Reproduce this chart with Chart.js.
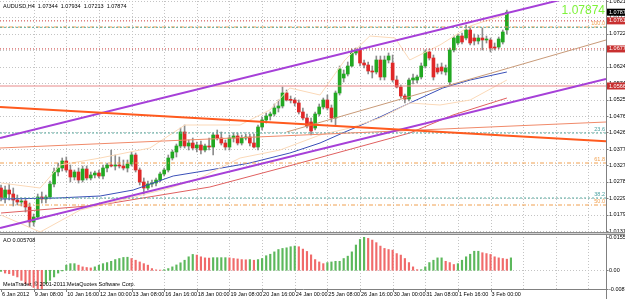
<!DOCTYPE html>
<html>
<head>
<meta charset="utf-8">
<script src="https://cdn.jsdelivr.net/npm/chart.js@4.4.0/dist/chart.umd.min.js"></script>
<style>
  html, body { margin: 0; padding: 0; background: #fff; }
  #wrap { position: relative; width: 625px; height: 299px; overflow: hidden; }
  #main { position: absolute; left: 0; top: 0; }
  #ao { position: absolute; left: 0; top: 235px; }
  .sep { position: absolute; left: 0; width: 625px; height: 1px; }
</style>
</head>
<body>
<div id="wrap">
  <canvas id="main" width="625" height="234"></canvas>
  <div class="sep" style="top:232px;background:#8a8a8a"></div>
  <div class="sep" style="top:233px;background:#d0d0d0"></div>
  <div class="sep" style="top:234px;background:#8a8a8a"></div>
  <canvas id="ao" width="625" height="64"></canvas>
</div>
<script>
// AUDUSD H4, 6 Jan - 3 Feb 2012
const timeLabels = ["6 Jan 2012", "9 Jan 08:00", "10 Jan 16:00", "12 Jan 00:00", "13 Jan 08:00",
  "16 Jan 16:00", "18 Jan 00:00", "19 Jan 08:00", "20 Jan 16:00", "24 Jan 00:00", "25 Jan 08:00",
  "26 Jan 16:00", "30 Jan 00:00", "31 Jan 08:00", "1 Feb 16:00", "3 Feb 00:00"];
const priceTicks = ["1.08210", "1.07720", "1.07225", "1.06735", "1.06240", "1.05745", "1.05250",
  "1.04760", "1.04265", "1.03770", "1.03275", "1.02785", "1.02290", "1.01795", "1.01310"];
const aoTicks = ["0.01554", "0.00", "-0.00873"];

// open, high, low, close
const ohlc = [
  [1.0260,1.0269,1.0221,1.0230],[1.0230,1.0266,1.0215,1.0254],[1.0254,1.0272,1.0224,1.0242],[1.0242,1.0260,1.0206,1.0224],
  [1.0224,1.0239,1.0209,1.0218],[1.0218,1.0230,1.0206,1.0221],[1.0221,1.0230,1.0188,1.0203],[1.0203,1.0215,1.0143,1.0158],
  [1.0158,1.0182,1.0146,1.0173],[1.0173,1.0242,1.0167,1.0233],[1.0233,1.0248,1.0215,1.0227],[1.0227,1.0239,1.0215,1.0233],
  [1.0233,1.0281,1.0227,1.0272],[1.0272,1.0320,1.0263,1.0308],[1.0308,1.0335,1.0296,1.0320],[1.0320,1.0350,1.0311,1.0341],
  [1.0341,1.0353,1.0308,1.0314],[1.0314,1.0329,1.0278,1.0293],[1.0293,1.0314,1.0284,1.0308],[1.0308,1.0320,1.0275,1.0284],
  [1.0284,1.0326,1.0278,1.0317],[1.0317,1.0326,1.0284,1.0290],[1.0290,1.0308,1.0284,1.0299],[1.0299,1.0311,1.0290,1.0305],
  [1.0305,1.0314,1.0290,1.0296],[1.0296,1.0329,1.0287,1.0320],[1.0320,1.0335,1.0308,1.0329],[1.0329,1.0374,1.0323,1.0326],
  [1.0326,1.0359,1.0314,1.0329],[1.0329,1.0353,1.0320,1.0326],[1.0326,1.0344,1.0314,1.0320],[1.0320,1.0344,1.0308,1.0332],
  [1.0332,1.0368,1.0326,1.0359],[1.0359,1.0365,1.0308,1.0314],[1.0314,1.0320,1.0269,1.0278],[1.0278,1.0290,1.0239,1.0260],
  [1.0260,1.0281,1.0254,1.0272],[1.0272,1.0284,1.0263,1.0275],[1.0275,1.0290,1.0266,1.0284],[1.0284,1.0308,1.0278,1.0302],
  [1.0302,1.0320,1.0296,1.0314],[1.0314,1.0359,1.0308,1.0350],[1.0350,1.0374,1.0344,1.0368],[1.0368,1.0392,1.0353,1.0386],
  [1.0386,1.0440,1.0380,1.0428],[1.0428,1.0449,1.0380,1.0386],[1.0386,1.0404,1.0374,1.0395],[1.0395,1.0410,1.0374,1.0380],
  [1.0380,1.0398,1.0368,1.0389],[1.0389,1.0401,1.0362,1.0374],[1.0374,1.0392,1.0368,1.0386],[1.0386,1.0410,1.0374,1.0383],
  [1.0383,1.0425,1.0359,1.0419],[1.0419,1.0434,1.0404,1.0410],[1.0410,1.0428,1.0389,1.0395],[1.0395,1.0404,1.0374,1.0383],
  [1.0383,1.0419,1.0374,1.0410],[1.0410,1.0425,1.0398,1.0416],[1.0416,1.0425,1.0389,1.0395],[1.0395,1.0419,1.0389,1.0410],
  [1.0410,1.0422,1.0404,1.0413],[1.0413,1.0422,1.0386,1.0395],[1.0395,1.0422,1.0380,1.0383],[1.0383,1.0449,1.0374,1.0443],
  [1.0443,1.0473,1.0434,1.0464],[1.0464,1.0485,1.0455,1.0476],[1.0476,1.0488,1.0464,1.0482],[1.0482,1.0512,1.0476,1.0500],
  [1.0500,1.0524,1.0488,1.0506],[1.0506,1.0563,1.0500,1.0545],[1.0545,1.0554,1.0521,1.0524],[1.0524,1.0536,1.0515,1.0523],
  [1.0524,1.0530,1.0506,1.0515],[1.0515,1.0524,1.0482,1.0488],[1.0488,1.0500,1.0464,1.0470],[1.0470,1.0482,1.0440,1.0446],
  [1.0458,1.0470,1.0419,1.0431],[1.0440,1.0488,1.0434,1.0482],[1.0482,1.0512,1.0476,1.0503],[1.0503,1.0530,1.0497,1.0524],
  [1.0524,1.0539,1.0494,1.0500],[1.0500,1.0509,1.0458,1.0470],[1.0470,1.0551,1.0449,1.0545],[1.0545,1.0626,1.0539,1.0617],
  [1.0590,1.0614,1.0578,1.0602],[1.0602,1.0638,1.0596,1.0626],[1.0626,1.0677,1.0623,1.0665],[1.0665,1.0680,1.0659,1.0674],
  [1.0674,1.0683,1.0626,1.0635],[1.0635,1.0644,1.0620,1.0629],[1.0629,1.0638,1.0602,1.0611],[1.0611,1.0626,1.0590,1.0608],
  [1.0608,1.0656,1.0602,1.0644],[1.0644,1.0656,1.0584,1.0593],[1.0593,1.0656,1.0584,1.0644],[1.0644,1.0665,1.0635,1.0656],
  [1.0635,1.0659,1.0578,1.0584],[1.0584,1.0596,1.0560,1.0563],[1.0563,1.0569,1.0530,1.0536],[1.0536,1.0542,1.0515,1.0527],
  [1.0527,1.0590,1.0521,1.0584],[1.0584,1.0602,1.0572,1.0590],[1.0584,1.0599,1.0575,1.0593],[1.0593,1.0635,1.0587,1.0626],
  [1.0626,1.0674,1.0620,1.0668],[1.0668,1.0677,1.0644,1.0650],[1.0650,1.0659,1.0584,1.0593],[1.0620,1.0632,1.0602,1.0608],
  [1.0623,1.0635,1.0602,1.0611],[1.0608,1.0629,1.0599,1.0620],[1.0578,1.0680,1.0569,1.0674],[1.0674,1.0716,1.0668,1.0710],
  [1.0695,1.0722,1.0689,1.0716],[1.0716,1.0725,1.0692,1.0698],[1.0710,1.0749,1.0704,1.0734],[1.0734,1.0740,1.0689,1.0695],
  [1.0710,1.0722,1.0689,1.0701],[1.0701,1.0719,1.0692,1.0710],[1.0710,1.0740,1.0674,1.0704],[1.0704,1.0716,1.0695,1.0705],
  [1.0704,1.0710,1.0668,1.0680],[1.0683,1.0695,1.0674,1.0680],[1.0683,1.0713,1.0677,1.0707],[1.0698,1.0734,1.0692,1.0728],
  [1.07344,1.07934,1.07213,1.07874]
];

const aoValues = [
  -0.0005,-0.0013,-0.0016,-0.0024,-0.0031,-0.0047,-0.0063,-0.0071,-0.0080,-0.0086,-0.0087,-0.0063,-0.0047,-0.0031,-0.0013,-0.0003,
  0.0024,0.0031,0.0031,0.0024,0.0016,0.0013,0.0011,0.0016,0.0024,0.0031,0.0036,0.0042,0.0050,0.0055,0.0060,0.0061,
  0.0055,0.0047,0.0039,0.0031,0.0024,0.0008,0.0002,0.0001,0.0003,0.0008,0.0016,0.0025,0.0035,0.0047,0.0063,0.0074,
  0.0071,0.0063,0.0058,0.0057,0.0059,0.0059,0.0059,0.0059,0.0058,0.0055,0.0053,0.0050,0.0049,0.0050,0.0047,0.0050,
  0.0055,0.0068,0.0075,0.0086,0.0097,0.0102,0.0105,0.0110,0.0113,0.0110,0.0099,0.0088,0.0072,0.0050,0.0039,0.0031,
  0.0036,0.0039,0.0042,0.0042,0.0055,0.0066,0.0086,0.0118,0.0144,0.0155,0.0149,0.0141,0.0129,0.0113,0.0102,0.0097,
  0.0094,0.0078,0.0071,0.0055,0.0036,0.0016,0.0003,0.0003,0.0016,0.0036,0.0047,0.0058,0.0058,0.0042,0.0036,0.0027,
  0.0031,0.0047,0.0063,0.0075,0.0089,0.0089,0.0082,0.0078,0.0074,0.0063,0.0058,0.0055,0.0052,0.0058
];

// indicator lines as [bar, price]
const maBlue = [[0,1.0227],[13.7,1.0230],[24.3,1.0236],[32.4,1.0254],[42.2,1.0296],[51.2,1.0314],[61,1.0335],
  [70.8,1.0365],[78.2,1.0395],[84.3,1.0428],[92.9,1.0473],[100.2,1.0515],[108.3,1.0560],[115,1.0584],[124,1.0608]];
const maRed = [[0,1.0185],[24.3,1.0209],[51.2,1.0263],[73.3,1.0335],[100.2,1.0425],[110.8,1.0479],[124,1.0530]];
const bandUpper = [[0,1.0275],[9.6,1.0260],[14.5,1.0329],[24.3,1.0350],[36.5,1.0380],[45.1,1.0449],[58.6,1.0449],
  [65.9,1.0494],[70.8,1.0560],[78.2,1.0539],[84.3,1.0644],[90.4,1.0716],[96.6,1.0710],[100.2,1.0644],[107.6,1.0689],
  [115,1.0746],[124,1.0782]];
const bandLower = [[0,1.0179],[9.6,1.0128],[19.4,1.0194],[31.6,1.0230],[41.4,1.0260],[48.8,1.0290],[58.6,1.0350],
  [68.4,1.0374],[78.2,1.0419],[85.5,1.0440],[92.9,1.0470],[100.2,1.0515],[107.6,1.0509],[115,1.0524],[124,1.0584]];

// trend lines as [bar, price] end points
const channelUpper = [[-0.25,1.0410],[148.3,1.0858]];
const channelLower = [[-0.25,1.0140],[148.3,1.0587]];
const resistLine = [[-0.25,1.0503],[148.3,1.0400]];
const supportLine = [[-0.25,1.0380],[148.3,1.0458]];
const tanLine = [[70,1.0428],[148.3,1.0704]];

// horizontal levels
const redLevels = [1.07614, 1.06772];
const pinkLevels = [1.05660];
const orangeFibo = [1.0743, 1.0335, 1.0209];
const orangeFiboNames = ["100.0", "61.8", "50.0"];
const tealFibo = [1.0742, 1.0425, 1.0230];
const tealFiboNames = ["", "23.6", "38.2"];
const lastPrice = 1.07874;

const xMin = -0.25, xMax = 148.3;
const FONT = "Liberation Sans";
const AXIS = '#808080';

function pts(arr) { return arr.map(p => ({ x: p[0], y: p[1] })); }
function levelPts(v) { return [{ x: xMin, y: v }, { x: xMax, y: v }]; }
function line(data, color, width, dash, order) {
  return { type: 'line', data: data, borderColor: color, borderWidth: width, borderDash: dash || [],
    pointRadius: 0, fill: false, tension: 0, order: order };
}

const datasets = [];
redLevels.forEach(v => datasets.push(line(levelPts(v), '#c83c3c', 1, [1, 2], 3)));
pinkLevels.forEach(v => datasets.push(line(levelPts(v), '#e88a8a', 1, [], 3)));
tealFibo.forEach(v => datasets.push(line(levelPts(v), '#5aaaa0', 1, [2, 2], 3)));
orangeFibo.forEach(v => datasets.push(line(levelPts(v), '#f0a050', 1, [4, 2, 1, 2], 3)));
datasets.push(line(pts(bandUpper), '#fbd9b8', 1, [], 4));
datasets.push(line(pts(bandLower), '#fbd9b8', 1, [], 4));
datasets.push(line(pts(maBlue), '#3a4fb8', 1, [], 4));
datasets.push(line(pts(maRed), '#e06060', 1, [], 4));
datasets.push(line(pts(tanLine), '#c89a78', 1, [], 2));
datasets.push(line(pts(supportLine), '#f08a6a', 1, [], 2));
datasets.push(line(pts(resistLine), '#ff5a1e', 2, [], 1));
datasets.push(line(pts(channelUpper), '#a640d8', 2, [], 1));
datasets.push(line(pts(channelLower), '#a640d8', 2, [], 1));

const bullCol = '#22a822', bearCol = '#e02828';
datasets.push({
  type: 'bar', order: 6, grouped: false, barThickness: 1,
  data: ohlc.map((c, i) => ({ x: i, y: [c[2], c[1]] })),
  backgroundColor: '#8c8c8c'
});
datasets.push({
  type: 'bar', order: 5, grouped: false, barThickness: 3, minBarLength: 1,
  data: ohlc.map((c, i) => ({ x: i, y: [Math.min(c[0], c[3]), Math.max(c[0], c[3])] })),
  backgroundColor: ohlc.map(c => c[3] >= c[0] ? bullCol : bearCol)
});

function dottedGrid(chart, yValues, xStep) {
  const { ctx, chartArea: a, scales } = chart;
  ctx.save();
  ctx.strokeStyle = '#c4c4c4';
  ctx.lineWidth = 1;
  ctx.setLineDash([1, 2]);
  ctx.beginPath();
  yValues.forEach(v => {
    const y = Math.round(scales.y.getPixelForValue(v)) + 0.5;
    if (y > a.top && y < a.bottom) { ctx.moveTo(a.left, y); ctx.lineTo(a.right, y); }
  });
  for (let i = xStep; i < xMax; i += xStep) {
    const x = Math.round(scales.x.getPixelForValue(i)) + 0.5;
    ctx.moveTo(x, a.top); ctx.lineTo(x, a.bottom);
  }
  ctx.stroke();
  ctx.restore();
}

// right price axis drawn from the chart's y scale
function rightAxis(chart, labels) {
  const { ctx, chartArea: a, scales, height } = chart;
  const x = a.right + 0.5;
  ctx.save();
  ctx.strokeStyle = AXIS;
  ctx.lineWidth = 1;
  ctx.beginPath();
  ctx.moveTo(x, 0); ctx.lineTo(x, height);
  labels.forEach(t => {
    const y = Math.round(scales.y.getPixelForValue(Number(t))) + 0.5;
    ctx.moveTo(x, y); ctx.lineTo(x + 2, y);
  });
  ctx.stroke();
  ctx.fillStyle = '#000';
  ctx.font = '5.5px "' + FONT + '"';
  ctx.textAlign = 'left';
  ctx.textBaseline = 'middle';
  labels.forEach(t => ctx.fillText(t, a.right + 3, scales.y.getPixelForValue(Number(t))));
  ctx.restore();
}

function priceBox(ctx, x, y, text, bg, fg) {
  ctx.fillStyle = bg;
  ctx.fillRect(x, y - 3.5, 20, 7);
  ctx.fillStyle = fg;
  ctx.font = '5.5px "' + FONT + '"';
  ctx.textAlign = 'left';
  ctx.textBaseline = 'middle';
  ctx.fillText(text, x + 2, y);
}

const mainDecor = {
  id: 'mainDecor',
  beforeDatasetsDraw(chart) {
    dottedGrid(chart, priceTicks.map(Number), 8);
  },
  afterDraw(chart) {
    const { ctx, scales, chartArea: a } = chart;
    rightAxis(chart, priceTicks);
    ctx.save();
    ctx.font = '5.5px "' + FONT + '"';
    ctx.textBaseline = 'alphabetic';
    ctx.textAlign = 'right';
    orangeFibo.forEach((v, k) => {
      ctx.fillStyle = '#f0a050';
      ctx.fillText(orangeFiboNames[k], a.right - 1, scales.y.getPixelForValue(v) - 2);
    });
    tealFibo.forEach((v, k) => {
      ctx.fillStyle = '#4aa0a0';
      if (tealFiboNames[k]) ctx.fillText(tealFiboNames[k], a.right - 1, scales.y.getPixelForValue(v) - 2);
    });
    ctx.textAlign = 'left';
    ctx.fillStyle = '#000';
    ctx.fillText("AUDUSD,H4  1.07344  1.07934  1.07213  1.07874", 3, 8);
    ctx.font = '12px "' + FONT + '"';
    ctx.textAlign = 'right';
    ctx.fillStyle = '#7ef23a';
    ctx.fillText(lastPrice.toFixed(5), a.right - 1, 14);
    redLevels.concat(pinkLevels).forEach(v =>
      priceBox(ctx, a.right + 1, scales.y.getPixelForValue(v), v.toFixed(5), '#c83030', '#fff'));
    priceBox(ctx, a.right + 1, scales.y.getPixelForValue(lastPrice), lastPrice.toFixed(5), '#000', '#fff');
    ctx.restore();
  }
};

new Chart(document.getElementById('main'), {
  type: 'bar',
  data: { datasets: datasets },
  options: {
    responsive: false, animation: false, devicePixelRatio: 1,
    layout: { autoPadding: false, padding: { top: 1, bottom: 2, left: 0, right: 19 } },
    plugins: { legend: { display: false }, tooltip: { enabled: false } },
    scales: {
      x: { type: 'linear', min: xMin, max: xMax, offset: false, display: false },
      y: { type: 'linear', min: 1.0128, max: 1.0821, display: false }
    }
  },
  plugins: [mainDecor]
});

// Awesome Oscillator pane
const aoColors = aoValues.map((v, i) => (i === 0 || v >= aoValues[i - 1]) ? '#5cb85c' : '#f06a6a');

const aoDecor = {
  id: 'aoDecor',
  beforeDatasetsDraw(chart) {
    dottedGrid(chart, [0], 8);
  },
  afterDraw(chart) {
    const { ctx, scales, chartArea: a } = chart;
    rightAxis(chart, aoTicks);
    ctx.save();
    ctx.strokeStyle = AXIS;
    ctx.lineWidth = 1;
    ctx.beginPath();
    ctx.moveTo(0, a.bottom + 0.5); ctx.lineTo(a.right + 1, a.bottom + 0.5);
    timeLabels.forEach((t, k) => {
      const x = Math.round(scales.x.getPixelForValue(k * 8)) + 0.5;
      ctx.moveTo(x, a.bottom); ctx.lineTo(x, a.bottom + 3);
    });
    ctx.stroke();
    ctx.font = '5.5px "' + FONT + '"';
    ctx.fillStyle = '#000';
    ctx.textAlign = 'left';
    ctx.textBaseline = 'alphabetic';
    ctx.fillText("AO 0.005708", 3, 7);
    ctx.fillText("MetaTrader, \u00A9 2001-2011 MetaQuotes Software Corp.", 3, 51);
    timeLabels.forEach((t, k) => {
      ctx.fillText(t, scales.x.getPixelForValue(k * 8) + 1, a.bottom + 7);
    });
    ctx.restore();
  }
};

new Chart(document.getElementById('ao'), {
  type: 'bar',
  data: {
    datasets: [{
      data: aoValues.map((v, i) => ({ x: i, y: v })),
      backgroundColor: aoColors, barThickness: 1.5, grouped: false
    }]
  },
  options: {
    responsive: false, animation: false, devicePixelRatio: 1,
    layout: { autoPadding: false, padding: { top: 2, bottom: 10, left: 0, right: 19 } },
    plugins: { legend: { display: false }, tooltip: { enabled: false } },
    scales: {
      x: { type: 'linear', min: xMin, max: xMax, offset: false, display: false },
      y: { type: 'linear', min: -0.00873, max: 0.01554, display: false }
    }
  },
  plugins: [aoDecor]
});
</script>
</body>
</html>
